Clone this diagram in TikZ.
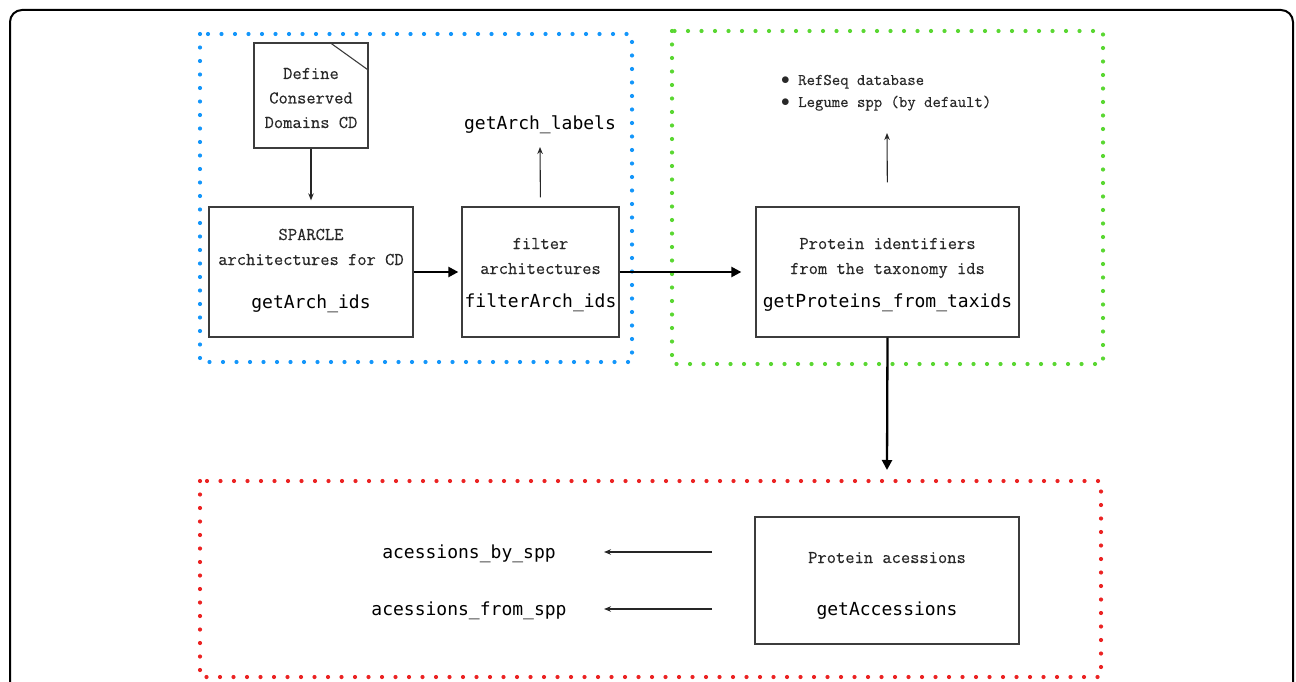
\documentclass[tikz,border=0pt]{standalone}
\usepackage{fontspec}
\setmonofont{Latin Modern Mono}[FakeBold=0.35]
\newfontfamily\codefont{DejaVu Sans Mono}
\usetikzlibrary{arrows.meta,calc}
\definecolor{dotblue}{RGB}{20,150,250}
\definecolor{dotgreen}{RGB}{90,215,50}
\definecolor{dotred}{RGB}{235,35,35}
\definecolor{boxgray}{RGB}{60,60,60}
\definecolor{txtgray}{RGB}{40,40,40}
\tikzset{
  box/.style={draw=boxgray, line width=1.3pt, inner sep=0pt},
  tt/.style={font=\fontsize{18}{24.5}\selectfont\ttfamily, text=txtgray, inner sep=0pt, anchor=base},
  code/.style={font=\fontsize{18}{22}\selectfont\codefont, text=black, inner sep=0pt, anchor=base},
  group/.style={line width=4.2pt, line cap=round, dash pattern=on 0pt off 13.5pt},
  thinarr/.style={draw=black!85, line width=1.1pt, -{Stealth[length=7pt,width=5.5pt]}},
  thickarr/.style={draw=black, line width=2.3pt, -{Triangle[length=10pt,width=10pt]}},
}
\begin{document}
\begin{tikzpicture}[x=1pt,y=-1pt]
\useasboundingbox (0,0) rectangle (1296,682);
\begin{scope}
\clip (0,0) rectangle (1296,682);
\draw[line width=2pt, rounded corners=12pt] (10,10) rectangle (1293,720);
\end{scope}

% groups
\draw[group, dotblue] (200,34) rectangle (632,362);
\draw[group, dotgreen] (672,31) rectangle (1103,364);
\draw[group, dotred] (200,481) rectangle (1101,677);

% define box (note)
\node[box, minimum width=114pt, minimum height=105pt] (def) at (311,95.5) {};
\draw[boxgray, line width=1.1pt] ($(def.north east)+(-39,0)$) -- ($(def.north east)+(0,28)$);
\node[tt] (def1) at (311,79) {Define};
\node[tt] (def2) at (311,103.5) {Conserved};
\node[tt] (def3) at (311,128) {Domains CD};

% sparcle box
\node[box, minimum width=204pt, minimum height=130pt] (sp) at (311,272) {};
\node[tt] (sp1) at (311,240) {SPARCLE};
\node[tt] (sp2) at (311,265) {architectures for CD};
\node[code] (sp3) at (311,308) {getArch\_ids};

% filter box
\node[box, minimum width=157pt, minimum height=130pt] (fa) at (540.5,272) {};
\node[tt] (fa1) at (540.5,249) {filter};
\node[tt] (fa2) at (540.5,274) {architectures};
\node[code] (fa3) at (540.5,307) {filterArch\_ids};

\node[code] (lab) at (540,130) {getArch\_labels};
\coordinate (labtip) at (540,147);

% protein box
\node[box, minimum width=263pt, minimum height=130pt] (pr) at (887.5,272) {};
\node[tt] (pr1) at (887.5,249) {Protein identifiers};
\node[tt] (pr2) at (887.5,274) {from the taxonomy ids};
\node[code] (pr3) at (887.5,307) {getProteins\_from\_taxids};

\node[font=\fontsize{16.3}{22}\selectfont\ttfamily, text=txtgray, inner sep=0pt, anchor=base west, align=left] (refs) at (781,107)
  {$\bullet$ RefSeq database\\$\bullet$ Legume spp (by default)};
\coordinate (reftip) at (887,133);

% accessions box
\node[box, minimum width=264pt, minimum height=127pt] (ac) at (887,580.5) {};
\node[tt] (ac1) at (887,563) {Protein acessions};
\node[code] (ac2) at (887,615) {getAccessions};

\node[code] (bys) at (469,558) {acessions\_by\_spp};
\node[code] (frs) at (469,615) {acessions\_from\_spp};
\coordinate (bysst) at (712,552);
\coordinate (bysen) at (604,552);
\coordinate (frsst) at (712,609);
\coordinate (frsen) at (604,609);
\coordinate (redtip) at (887,470);

% connectors
\draw[thinarr, shorten >=6pt] (def.south) -- (sp.north);
\draw[thickarr, shorten >=3pt] (sp.east) -- (fa.west);
\draw[thinarr, shorten <=9pt] (fa.north) -- (labtip);
\draw[thickarr, shorten >=14pt] (fa.east) -- (pr.west);
\draw[thinarr, shorten <=24pt] (pr.north) -- (reftip);
\draw[thickarr] (pr.south) -- (redtip);
\draw[thinarr] (bysst) -- (bysen);
\draw[thinarr] (frsst) -- (frsen);
\end{tikzpicture}
\end{document}
